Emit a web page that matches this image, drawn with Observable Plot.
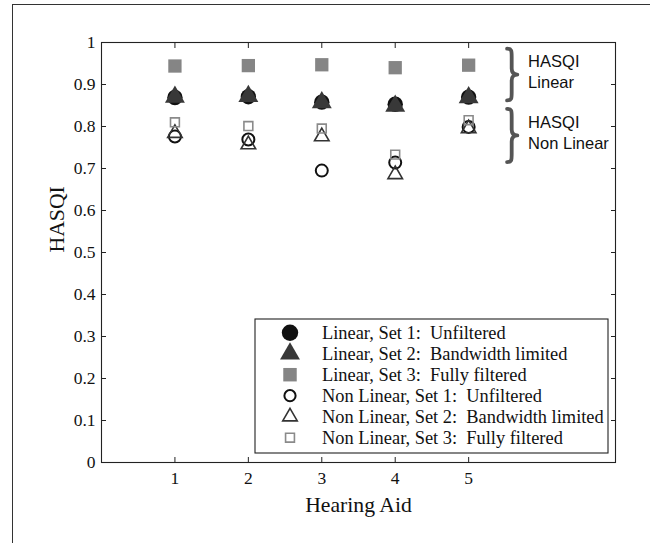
<!DOCTYPE html>
<html><head><meta charset="utf-8">
<script src="https://cdn.jsdelivr.net/npm/d3@7"></script>
<script src="https://cdn.jsdelivr.net/npm/@observablehq/plot@0.6"></script>
<style>
html,body{margin:0;padding:0;background:#fff;}
#wrap{position:relative;width:650px;height:543px;overflow:hidden;background:#fff;}
#border{position:absolute;left:12px;top:4px;width:700px;height:620px;border:1.5px solid #333;box-sizing:border-box;}
#chart{position:absolute;left:0;top:0;}
</style></head><body>
<div id="wrap"><div id="border"></div><div id="chart"></div></div>
<script>
// ---- data ----
const hearingAids = [1, 2, 3, 4, 5];
const xTicks = [1, 2, 3, 4, 5];
const yTicks = [0, 0.1, 0.2, 0.3, 0.4, 0.5, 0.6, 0.7, 0.8, 0.9, 1];

const linearSet1 = [0.869, 0.871, 0.858, 0.853, 0.870];
const linearSet2 = [0.870, 0.872, 0.857, 0.849, 0.869];
const linearSet3 = [0.944, 0.945, 0.947, 0.940, 0.946];
const nonLinearSet1 = [0.776, 0.769, 0.695, 0.714, 0.799];
const nonLinearSet2 = [0.784, 0.757, 0.776, 0.686, 0.795];
const nonLinearSet3 = [0.810, 0.801, 0.795, 0.733, 0.815];

const seriesNames = [
  "Linear, Set 1:  Unfiltered",
  "Linear, Set 2:  Bandwidth limited",
  "Linear, Set 3:  Fully filtered",
  "Non Linear, Set 1:  Unfiltered",
  "Non Linear, Set 2:  Bandwidth limited",
  "Non Linear, Set 3:  Fully filtered"
];
const seriesValues = [linearSet1, linearSet2, linearSet3, nonLinearSet1, nonLinearSet2, nonLinearSet3];

const groupLabels = ["HASQI\nLinear", "HASQI\nNon Linear"];
const groupTop = [0.984, 0.841];
const groupBottom = [0.861, 0.714];

// ---- styles ----
const seriesStyles = [
  {symbol: "circle",   fill: "#111",    stroke: "none",    r: 7.7, sw: 0,   lr: 8.2},
  {symbol: "triangle", fill: "#383838", stroke: "none",    r: 7.4, sw: 0,   lr: 7.4},
  {symbol: "square",   fill: "#858585", stroke: "none",    r: 7.5, sw: 0,   lr: 7.6},
  {symbol: "circle",   fill: "none",    stroke: "#111",    r: 6.0, sw: 2,   lr: 5.6},
  {symbol: "triangle", fill: "none",    stroke: "#333",    r: 5.4, sw: 1.6, lr: 5.4},
  {symbol: "square",   fill: "none",    stroke: "#8a8a8a", r: 5.0, sw: 1.6, lr: 5.0}
];

const rows = seriesValues.flatMap((vals, si) =>
  vals.map((v, i) => ({aid: hearingAids[i], hasqi: v, series: seriesNames[si]})));

const fmt = d => String(+d.toFixed(1));
const serif = "'Liberation Serif', 'Times New Roman', Times, serif";
const sans = "'Liberation Sans', Arial, Helvetica, sans-serif";

const chart = Plot.plot({
  width: 650, height: 543,
  marginLeft: 101, marginRight: 35, marginTop: 42, marginBottom: 81,
  x: {domain: [0, 7]},
  y: {domain: [0, 1]},
  style: {fontFamily: serif, fontSize: "16px", background: "transparent", color: "#111", overflow: "visible"},
  marks: [
    Plot.frame({stroke: "#222", strokeWidth: 1.1}),
    Plot.axisY({ticks: yTicks, anchor: "left", tickSize: 5, dx: 5, tickFormat: () => "", label: null, stroke: "#222"}),
    Plot.axisY({ticks: yTicks, anchor: "right", tickSize: 5, dx: -5, tickFormat: () => "", label: null, stroke: "#222"}),
    Plot.axisY({ticks: yTicks, anchor: "left", tickSize: 0, tickPadding: 6, tickFormat: fmt, label: null, fontSize: 17.5, fill: "#111"}),
    Plot.axisX({ticks: xTicks, anchor: "bottom", tickSize: 5, dy: -5, tickFormat: () => "", label: null, stroke: "#222"}),
    Plot.axisX({ticks: xTicks, anchor: "top", tickSize: 5, dy: 5, tickFormat: () => "", label: null, stroke: "#222"}),
    Plot.axisX({ticks: xTicks, anchor: "bottom", tickSize: 0, tickPadding: 9, tickFormat: fmt, label: null, fontSize: 17.5, fill: "#111"}),
    Plot.text(["Hearing Aid"], {frameAnchor: "bottom", lineAnchor: "bottom", dy: 49, fontSize: 21.7, fill: "#111"}),
    Plot.text(["HASQI"], {frameAnchor: "left", rotate: -90, dx: -44, fontSize: 21.7, fill: "#111"}),
    ...seriesNames.map((name, si) => Plot.dot(rows.filter(d => d.series === name), {
      x: "aid", y: "hasqi", symbol: seriesStyles[si].symbol,
      fill: seriesStyles[si].fill, stroke: seriesStyles[si].stroke,
      strokeWidth: seriesStyles[si].sw, r: seriesStyles[si].r
    })),
    Plot.text(groupLabels.map((l, i) => ({label: l, y: (groupTop[i] + groupBottom[i]) / 2})), {
      x: () => 5.81, y: "y", text: "label", textAnchor: "start", lineAnchor: "middle",
      lineHeight: 1.25, dy: -4, fontSize: 16.5, fontFamily: sans, fill: "#111"
    })
  ]
});
document.getElementById("chart").appendChild(chart);

// ---- braces (annotation, positioned by the plot's scales) ----
const sx = chart.scale("x"), sy = chart.scale("y");
const svg = d3.select(chart);
const xb = sx.apply(5.53), w = sx.apply(5.67) - xb;
function bracePath(x, y0, y1, w) {
  const ym = (y0 + y1) / 2, xm = x + w * 0.45;
  return `M${x},${y0} C${xm},${y0} ${xm},${y0+2} ${xm},${y0+8} L${xm},${ym-6} C${xm},${ym-1.5} ${x+w*0.7},${ym} ${x+w},${ym}` +
         ` C${x+w*0.7},${ym} ${xm},${ym+1.5} ${xm},${ym+6} L${xm},${y1-8} C${xm},${y1-2} ${xm},${y1} ${x},${y1}`;
}
groupLabels.forEach((l, i) => {
  svg.append("path")
    .attr("d", bracePath(xb, sy.apply(groupTop[i]), sy.apply(groupBottom[i]), w))
    .attr("fill", "none").attr("stroke", "#555").attr("stroke-width", 3.8)
    .attr("stroke-linecap", "round").attr("stroke-linejoin", "round");
});

// ---- legend ----
const symMap = {circle: d3.symbolCircle, triangle: d3.symbolTriangle, square: d3.symbolSquare};
const lg = svg.append("g").attr("text-anchor", "start");
const lx0 = 255, ly0 = 319, lw = 353, rowH = 21;
lg.append("rect").attr("x", lx0).attr("y", ly0).attr("width", lw).attr("height", 134)
  .attr("fill", "#fff").attr("stroke", "#222").attr("stroke-width", 1.1);
seriesNames.forEach((name, i) => {
  const st = seriesStyles[i];
  const cy = ly0 + 13.7 + i * rowH;
  lg.append("path")
    .attr("d", d3.symbol(symMap[st.symbol], Math.PI * st.lr * st.lr)())
    .attr("transform", `translate(${lx0 + 35},${cy})`)
    .attr("fill", st.fill).attr("stroke", st.stroke).attr("stroke-width", st.sw);
  lg.append("text").attr("x", lx0 + 67).attr("y", cy + 5.8)
    .attr("text-anchor", "start")
    .attr("font-family", serif).attr("font-size", 18.4).attr("fill", "#111")
    .style("white-space", "pre")
    .text(name);
});
</script>
</body></html>
